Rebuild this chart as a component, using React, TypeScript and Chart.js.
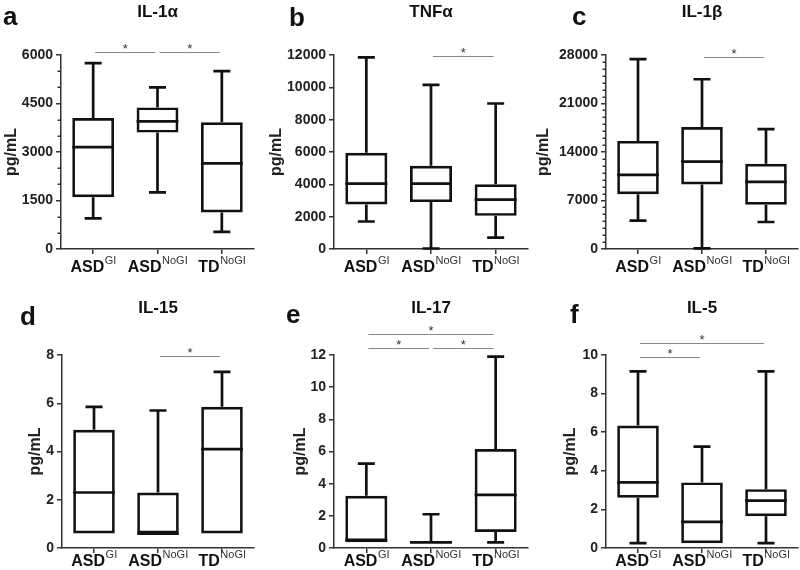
import React, { useEffect, useRef } from "react";
import { Chart, registerables } from "chart.js";
Chart.register(...registerables);

// ---------- data ----------
const groupNames = ["ASD", "ASD", "TD"];
const groupSups = ["GI", "NoGI", "NoGI"];

// five-number summaries per group: [min, Q1, median, Q3, max]
const il1aBoxes = [
  [950, 1600, 3150, 4050, 5750],
  [1750, 3600, 3950, 4380, 5000],
  [530, 1130, 2650, 3920, 5500],
];
const tnfaBoxes = [
  [1700, 2750, 4050, 5950, 11850],
  [30, 2900, 4050, 5150, 10150],
  [700, 2050, 3050, 4000, 9000],
];
const il1bBoxes = [
  [4100, 7900, 10700, 15600, 27400],
  [100, 9300, 12600, 17600, 24500],
  [3900, 6400, 9700, 12300, 17300],
];
const il15Boxes = [
  [0.6, 0.6, 2.3, 4.9, 5.85],
  [0.6, 0.6, 0.6, 2.3, 5.7],
  [0.6, 0.6, 4.1, 5.85, 7.3],
];
const il17Boxes = [
  [0.35, 0.35, 0.5, 3.25, 5.25],
  [0.35, 0.35, 0.35, 0.35, 2.1],
  [0.35, 1.0, 3.3, 6.15, 11.9],
];
const il5Boxes = [
  [0.25, 2.6, 3.4, 6.35, 9.15],
  [0.25, 0.25, 1.35, 3.4, 5.25],
  [0.25, 1.65, 2.45, 3.05, 9.15],
];

// y tick labels (major) and minor step
const il1aTicks = [0, 1500, 3000, 4500, 6000];
const tnfaTicks = [0, 2000, 4000, 6000, 8000, 10000, 12000];
const il1bTicks = [0, 7000, 14000, 21000, 28000];
const il15Ticks = [0, 2, 4, 6, 8];
const il17Ticks = [0, 2, 4, 6, 8, 10, 12];
const il5Ticks = [0, 2, 4, 6, 8, 10];

// significance comparisons: [fromGroup, toGroup, tier]
const il1aSig = [[0, 1, 0], [1, 2, 0]];
const tnfaSig = [[1, 2, 0]];
const il1bSig = [[1, 2, 0]];
const il15Sig = [[1, 2, 0]];
const il17Sig = [[0, 1, 0], [1, 2, 0], [0, 2, 1]];
const il5Sig = [[0, 1, 0], [0, 2, 1]];

// ---------- layout ----------
const FONT = "'Liberation Sans', Arial, Helvetica, sans-serif";

type Panel = {
  letter: string;
  title: string;
  boxes: number[][];
  ticks: number[];
  step: number;
  sig: number[][];
  canvas: [number, number, number, number];
  area: [number, number, number, number];
  yTitleX: number;
  sigBase: number;
  letterX: number;
  letterY: number;
  titleY: number;
  labelDy: number;
};

const panels: Panel[] = [
  { letter: "a", title: "IL-1α", boxes: il1aBoxes, ticks: il1aTicks, step: 500, sig: il1aSig,
    canvas: [0, 0, 266, 285], area: [61, 55, 254, 249], yTitleX: 12, sigBase: -3,
    letterX: 3, letterY: 25, titleY: 17, labelDy: 23 },
  { letter: "b", title: "TNFα", boxes: tnfaBoxes, ticks: tnfaTicks, step: 2000, sig: tnfaSig,
    canvas: [266, 0, 266, 285], area: [334, 55, 528, 249], yTitleX: 11, sigBase: 1,
    letterX: 23, letterY: 26, titleY: 17, labelDy: 23 },
  { letter: "c", title: "IL-1β", boxes: il1bBoxes, ticks: il1bTicks, step: 1000, sig: il1bSig,
    canvas: [532, 0, 268, 285], area: [606, 55, 798, 249], yTitleX: 12, sigBase: 2,
    letterX: 40, letterY: 25, titleY: 17, labelDy: 23 },
  { letter: "d", title: "IL-15", boxes: il15Boxes, ticks: il15Ticks, step: 2, sig: il15Sig,
    canvas: [0, 285, 266, 285], area: [62, 355, 254, 548], yTitleX: 36, sigBase: 1,
    letterX: 20, letterY: 40, titleY: 28, labelDy: 18 },
  { letter: "e", title: "IL-17", boxes: il17Boxes, ticks: il17Ticks, step: 2, sig: il17Sig,
    canvas: [266, 285, 266, 285], area: [334, 355, 528, 548], yTitleX: 35, sigBase: -7,
    letterX: 20, letterY: 38, titleY: 28, labelDy: 18 },
  { letter: "f", title: "IL-5", boxes: il5Boxes, ticks: il5Ticks, step: 2, sig: il5Sig,
    canvas: [532, 285, 268, 285], area: [606, 355, 798, 548], yTitleX: 39, sigBase: 2,
    letterX: 38, letterY: 38, titleY: 28, labelDy: 18 },
];

function isMajor(v: number, majorStep: number) {
  return Math.abs(v / majorStep - Math.round(v / majorStep)) < 1e-6;
}

function makeExtras(p: Panel) {
  const majorStep = p.ticks[1] - p.ticks[0];
  return {
    id: "boxExtras",
    afterDatasetsDraw(chart: any) {
      const ctx = chart.ctx;
      const ys = chart.scales.y;
      const meta = chart.getDatasetMeta(0);
      ctx.save();
      ctx.strokeStyle = "#111";
      ctx.lineWidth = 2.7;
      ctx.lineCap = "butt";
      p.boxes.forEach((b, i) => {
        const el = meta.data[i];
        const cx = el.x;
        const half = el.width / 2;
        const capHalf = 8.5;
        const [mn, q1, md, q3, mx] = b;
        ctx.beginPath();
        if (mx > q3) {
          ctx.moveTo(cx, ys.getPixelForValue(q3));
          ctx.lineTo(cx, ys.getPixelForValue(mx));
          ctx.moveTo(cx - capHalf, ys.getPixelForValue(mx));
          ctx.lineTo(cx + capHalf, ys.getPixelForValue(mx));
        }
        if (mn < q1) {
          ctx.moveTo(cx, ys.getPixelForValue(q1));
          ctx.lineTo(cx, ys.getPixelForValue(mn));
          ctx.moveTo(cx - capHalf, ys.getPixelForValue(mn));
          ctx.lineTo(cx + capHalf, ys.getPixelForValue(mn));
        }
        ctx.moveTo(cx - half, ys.getPixelForValue(md));
        ctx.lineTo(cx + half, ys.getPixelForValue(md));
        ctx.stroke();
      });
      ctx.restore();
    },
    afterDraw(chart: any) {
      const ctx = chart.ctx;
      const area = chart.chartArea;
      const ys = chart.scales.y;
      const meta = chart.getDatasetMeta(0);
      ctx.save();
      // minor ticks (shorter)
      ctx.strokeStyle = "#333";
      ctx.lineWidth = 1.5;
      ctx.beginPath();
      ys.ticks.forEach((t: any) => {
        if (!isMajor(t.value, majorStep)) {
          const y = Math.round(ys.getPixelForValue(t.value)) + 0.25;
          ctx.moveTo(area.left - 3.5, y);
          ctx.lineTo(area.left, y);
        }
      });
      ctx.stroke();

      ctx.fillStyle = "#111";
      // panel letter
      ctx.textAlign = "left";
      ctx.textBaseline = "alphabetic";
      ctx.font = `bold 26px ${FONT}`;
      ctx.fillText(p.letter, p.letterX, p.letterY);
      // title
      ctx.textAlign = "center";
      ctx.font = `bold 17px ${FONT}`;
      ctx.fillText(p.title, (area.left + area.right) / 2, p.titleY);
      // y title
      ctx.save();
      ctx.translate(p.yTitleX, (area.top + area.bottom) / 2);
      ctx.rotate(-Math.PI / 2);
      ctx.textBaseline = "middle";
      ctx.font = `bold 16px ${FONT}`;
      ctx.fillStyle = "#222";
      ctx.fillText("pg/mL", 0, 0);
      ctx.restore();
      // x labels with superscripts
      ctx.textAlign = "left";
      groupNames.forEach((name, i) => {
        const cx = meta.data[i].x;
        ctx.font = `bold 16px ${FONT}`;
        const w1 = ctx.measureText(name).width;
        ctx.font = `11px ${FONT}`;
        const w2 = ctx.measureText(groupSups[i]).width;
        const x0 = cx - (w1 + w2) / 2;
        const by = area.bottom + p.labelDy;
        ctx.fillStyle = "#111";
        ctx.font = `bold 16px ${FONT}`;
        ctx.fillText(name, x0, by);
        ctx.fillStyle = "#333";
        ctx.font = `11px ${FONT}`;
        ctx.fillText(groupSups[i], x0 + w1 + 0.5, by - 8);
      });
      // significance bars
      p.sig.forEach(([a, b, tier]) => {
        const xa = meta.data[a].x + 2;
        const xb = meta.data[b].x - 2;
        const y = area.top + p.sigBase - tier * 14;
        ctx.strokeStyle = "#888";
        ctx.lineWidth = 1;
        ctx.beginPath();
        ctx.moveTo(xa, y + 0.5);
        ctx.lineTo(xb, y + 0.5);
        ctx.stroke();
        ctx.fillStyle = "#333";
        ctx.textAlign = "center";
        ctx.font = `13px ${FONT}`;
        ctx.fillText("*", (xa + xb) / 2, y + 1);
      });
      ctx.restore();
    },
  };
}

function PanelChart({ p }: { p: Panel }) {
  const ref = useRef<HTMLCanvasElement | null>(null);
  useEffect(() => {
    if (!ref.current) return;
    const [cx, cy, cw, ch] = p.canvas;
    const [L, T, R, B] = p.area;
    const yWidth = L - cx;
    const xHeight = cy + ch - B;
    const maxV = p.ticks[p.ticks.length - 1];
    const majorStep = p.ticks[1] - p.ticks[0];
    const chart = new Chart(ref.current, {
      type: "bar",
      data: {
        labels: groupNames.map((n, i) => `${n} ${groupSups[i]}`),
        datasets: [
          {
            data: p.boxes.map((b) => [b[1], b[3]]) as any,
            backgroundColor: "rgba(0,0,0,0)",
            borderColor: "#111",
            borderWidth: 2.7,
            borderSkipped: false,
            barPercentage: 0.65,
            categoryPercentage: 1,
          },
        ],
      },
      options: {
        responsive: false,
        animation: false,
        events: [],
        layout: { padding: { left: 0, top: T - cy, right: cx + cw - R, bottom: 0 } },
        plugins: { legend: { display: false }, tooltip: { enabled: false }, title: { display: false } },
        scales: {
          x: {
            type: "category",
            offset: true,
            border: { display: true, color: "#333", width: 1.5 },
            grid: { offset: false, drawOnChartArea: false, drawTicks: true, tickLength: 5, color: "#333", lineWidth: 1.5 },
            ticks: { callback: () => "", padding: 0 },
            afterFit: (s: any) => { s.height = xHeight; },
          },
          y: {
            min: 0,
            max: maxV,
            border: { display: true, color: "#333", width: 1.5 },
            grid: {
              drawOnChartArea: false,
              drawTicks: true,
              tickLength: 5,
              color: "#333",
              lineWidth: 1.5,
              tickColor: (c: any) => (c.tick && isMajor(c.tick.value, majorStep) ? "#333" : "rgba(0,0,0,0)"),
            },
            ticks: {
              stepSize: p.step,
              autoSkip: false,
              padding: 3,
              color: "#222",
              font: { family: FONT, size: 14, weight: "bold" },
              callback: (v: any) => (isMajor(v, majorStep) ? String(v) : ""),
            },
            afterFit: (s: any) => { s.width = yWidth; },
          },
        },
      } as any,
      plugins: [makeExtras(p)],
    });
    return () => chart.destroy();
  }, [p]);
  const [cx, cy, cw, ch] = p.canvas;
  return (
    <canvas
      ref={ref}
      width={cw}
      height={ch}
      style={{ position: "absolute", left: cx, top: cy, width: cw, height: ch }}
    />
  );
}

export default function App() {
  return (
    <div style={{ position: "absolute", left: 0, top: 0, width: 800, height: 570, background: "#fff" }}>
      {panels.map((p) => (
        <PanelChart key={p.letter} p={p} />
      ))}
    </div>
  );
}
